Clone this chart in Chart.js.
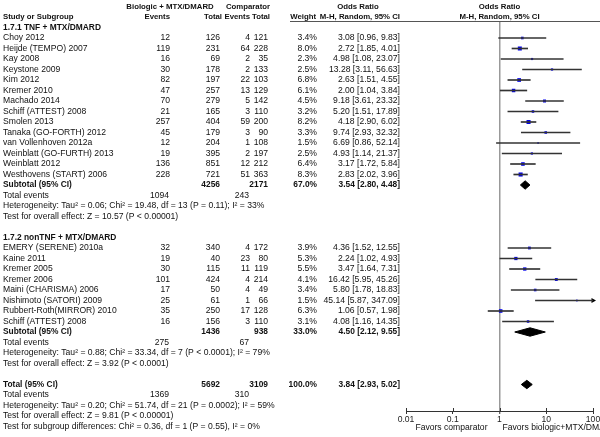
<!DOCTYPE html>
<html>
<head>
<meta charset="utf-8">
<script src="https://cdn.jsdelivr.net/npm/chart.js@4.4.0/dist/chart.umd.min.js"></script>
<style>
body{margin:0;background:#fff;}
#wrap{width:600px;height:437px;position:relative;}
</style>
</head>
<body>
<div id="wrap"><canvas id="forest"></canvas></div>
<script>
// 1.7.1 TNF + MTX/DMARD
const tnfStudies = ['Choy 2012','Heijde (TEMPO) 2007','Kay 2008','Keystone 2009','Kim 2012','Kremer 2010','Machado 2014','Schiff (ATTEST) 2008','Smolen 2013','Tanaka (GO-FORTH) 2012','van Vollenhoven 2012a','Weinblatt (GO-FURTH) 2013','Weinblatt 2012','Westhovens (START) 2006'];
const tnfBioEvents = [12,119,16,30,82,47,70,21,257,45,12,19,136,228];
const tnfBioTotal = [126,231,69,178,197,257,279,165,404,179,204,395,851,721];
const tnfCompEvents = [4,64,2,2,22,13,5,3,59,3,1,2,12,51];
const tnfCompTotal = [121,228,35,133,103,129,142,110,200,90,108,197,212,363];
const tnfWeight = [3.4,8.0,2.3,2.5,6.8,6.1,4.5,3.2,8.2,3.3,1.5,2.5,6.4,8.3];
const tnfOR = [3.08,2.72,4.98,13.28,2.63,2.00,9.18,5.20,4.18,9.74,6.69,4.93,3.17,2.83];
const tnfLow = [0.96,1.85,1.08,3.11,1.51,1.04,3.61,1.51,2.90,2.93,0.86,1.14,1.72,2.02];
const tnfHigh = [9.83,4.01,23.07,56.63,4.55,3.84,23.32,17.89,6.02,32.32,52.14,21.37,5.84,3.96];

// 1.7.2 nonTNF + MTX/DMARD
const nonStudies = ['EMERY (SERENE) 2010a','Kaine 2011','Kremer 2005','Kremer 2006','Maini (CHARISMA) 2006','Nishimoto (SATORI) 2009','Rubbert-Roth(MIRROR) 2010','Schiff (ATTEST) 2008'];
const nonBioEvents = [32,19,30,101,17,25,35,16];
const nonBioTotal = [340,40,115,424,50,61,250,156];
const nonCompEvents = [4,23,11,4,4,1,17,3];
const nonCompTotal = [172,80,119,214,49,66,128,110];
const nonWeight = [3.9,5.3,5.5,4.1,3.4,1.5,6.3,3.1];
const nonOR = [4.36,2.24,3.47,16.42,5.80,45.14,1.06,4.08];
const nonLow = [1.52,1.02,1.64,5.95,1.78,5.87,0.57,1.16];
const nonHigh = [12.55,4.93,7.31,45.26,18.83,347.09,1.98,14.35];

// subtotals and total
const sumLabels = ['Subtotal (95% CI)','Subtotal (95% CI)','Total (95% CI)'];
const sumBioTotal = [4256,1436,5692];
const sumCompTotal = [2171,938,3109];
const sumWeight = [67.0,33.0,100.0];
const sumOR = [3.54,4.50,3.84];
const sumLow = [2.80,2.12,2.93];
const sumHigh = [4.48,9.55,5.02];
const sumBioEvents = [1094,275,1369];
const sumCompEvents = [243,67,310];
const sumHet = [
  'Heterogeneity: Tau\u00b2 = 0.06; Chi\u00b2 = 19.48, df = 13 (P = 0.11); I\u00b2 = 33%',
  'Heterogeneity: Tau\u00b2 = 0.88; Chi\u00b2 = 33.34, df = 7 (P < 0.0001); I\u00b2 = 79%',
  'Heterogeneity: Tau\u00b2 = 0.20; Chi\u00b2 = 51.74, df = 21 (P = 0.0002); I\u00b2 = 59%'
];
const sumEffect = [
  'Test for overall effect: Z = 10.57 (P < 0.00001)',
  'Test for overall effect: Z = 3.92 (P < 0.0001)',
  'Test for overall effect: Z = 9.81 (P < 0.00001)'
];
const subgroupTest = 'Test for subgroup differences: Chi\u00b2 = 0.36, df = 1 (P = 0.55), I\u00b2 = 0%';
const groupTitles = ['1.7.1 TNF + MTX/DMARD','1.7.2 nonTNF + MTX/DMARD'];
const tickValues = [0.01,0.1,1,10,100];

const groups = [
  {names:tnfStudies, be:tnfBioEvents, bt:tnfBioTotal, ce:tnfCompEvents, ct:tnfCompTotal, w:tnfWeight, or:tnfOR, lo:tnfLow, hi:tnfHigh},
  {names:nonStudies, be:nonBioEvents, bt:nonBioTotal, ce:nonCompEvents, ct:nonCompTotal, w:nonWeight, or:nonOR, lo:nonLow, hi:nonHigh}
];

// assign rows
const studyRows = [];
const textRows = [];
const sumRows = [];
let r = 1;
groups.forEach(function(g, k){
  textRows.push({row:r++, text:groupTitles[k], bold:true});
  g.names.forEach(function(n, i){
    studyRows.push({row:r++, name:n, be:g.be[i], bt:g.bt[i], ce:g.ce[i], ct:g.ct[i], w:g.w[i], or:g.or[i], lo:g.lo[i], hi:g.hi[i]});
  });
  sumRows.push({row:r, k:k});
  r += 5; // subtotal, events, heterogeneity, effect, blank
});
sumRows.push({row:r, k:2});
const subgroupRow = r + 4;

const X_MAX = 100;

const ciData = studyRows.map(s => ({x:[s.lo, Math.min(s.hi, X_MAX*5)], y:s.row}));
const pointData = studyRows.map(s => ({x:s.or, y:s.row}));
const pointSizes = studyRows.map(s => Math.sqrt(s.w));
const arrowData = studyRows.filter(s => s.hi > X_MAX).map(s => ({x:X_MAX, y:s.row}));

const diamondSets = sumRows.map(s => ({
  type:'line',
  data:[
    {x:sumLow[s.k], y:s.row},
    {x:sumOR[s.k], y:s.row-0.4},
    {x:sumHigh[s.k], y:s.row},
    {x:sumOR[s.k], y:s.row+0.4},
    {x:sumLow[s.k], y:s.row}
  ],
  borderColor:'#000',
  backgroundColor:'#000',
  borderWidth:1,
  pointRadius:0,
  tension:0,
  fill:'shape'
}));

const f2 = v => v.toFixed(2);
const orText = (o, l, h) => f2(o) + ' [' + f2(l) + ', ' + f2(h) + ']';

const FAM = '"Liberation Sans", Arial, sans-serif';
const REG = '8.6px ' + FAM;
const BOLD = 'bold 8.4px ' + FAM;
const HEAD = 'bold 7.8px ' + FAM;

const tablePlugin = {
  id:'table',
  afterDraw(chart){
    const ctx = chart.ctx;
    const ys = chart.scales.y;
    const xs = chart.scales.x;
    const Y = row => ys.getPixelForValue(row);
    function txt(t, x, row, align, font){
      ctx.font = font || REG;
      ctx.textAlign = align;
      ctx.fillText(t, x, Y(row));
    }
    ctx.save();
    ctx.fillStyle = '#111';
    ctx.textBaseline = 'middle';

    // headers
    const mid = xs.getPixelForValue(1);
    txt('Biologic + MTX/DMARD', 170, -1, 'center', HEAD);
    txt('Comparator', 248, -1, 'center', HEAD);
    txt('Odds Ratio', 358, -1, 'center', HEAD);
    txt('Odds Ratio', mid, -1, 'center', HEAD);
    txt('Study or Subgroup', 3, 0, 'left', HEAD);
    txt('Events', 170, 0, 'right', HEAD);
    txt('Total', 222, 0, 'right', HEAD);
    txt('Events', 250, 0, 'right', HEAD);
    txt('Total', 270, 0, 'right', HEAD);
    txt('Weight', 316, 0, 'right', HEAD);
    txt('M-H, Random, 95% CI', 400, 0, 'right', HEAD);
    txt('M-H, Random, 95% CI', mid, 0, 'center', HEAD);

    ctx.strokeStyle = '#555';
    ctx.lineWidth = 1;
    ctx.beginPath();
    ctx.moveTo(290, chart.chartArea.top + 0.5);
    ctx.lineTo(600, chart.chartArea.top + 0.5);
    ctx.stroke();

    // small upward tick marks on the axis
    ctx.strokeStyle = '#333';
    ctx.beginPath();
    tickValues.forEach(v => {
      const px = Math.round(xs.getPixelForValue(v)) + 0.5;
      ctx.moveTo(px, xs.top);
      ctx.lineTo(px, xs.top - 3);
    });
    ctx.stroke();

    textRows.forEach(t => txt(t.text, 3, t.row, 'left', BOLD));

    studyRows.forEach(s => {
      txt(s.name, 3, s.row, 'left');
      txt(String(s.be), 170, s.row, 'right');
      txt(String(s.bt), 220, s.row, 'right');
      txt(String(s.ce), 250, s.row, 'right');
      txt(String(s.ct), 268, s.row, 'right');
      txt(s.w.toFixed(1) + '%', 317, s.row, 'right');
      txt(orText(s.or, s.lo, s.hi), 400, s.row, 'right');
    });

    sumRows.forEach(s => {
      const k = s.k;
      txt(sumLabels[k], 3, s.row, 'left', BOLD);
      txt(String(sumBioTotal[k]), 220, s.row, 'right', BOLD);
      txt(String(sumCompTotal[k]), 268, s.row, 'right', BOLD);
      txt(sumWeight[k].toFixed(1) + '%', 317, s.row, 'right', BOLD);
      txt(orText(sumOR[k], sumLow[k], sumHigh[k]), 400, s.row, 'right', BOLD);
      txt('Total events', 3, s.row + 1, 'left');
      txt(String(sumBioEvents[k]), 169, s.row + 1, 'right');
      txt(String(sumCompEvents[k]), 249, s.row + 1, 'right');
      txt(sumHet[k], 3, s.row + 2, 'left');
      txt(sumEffect[k], 3, s.row + 3, 'left');
    });
    txt(subgroupTest, 3, subgroupRow, 'left');

    // favours labels under the axis
    ctx.font = REG;
    ctx.textAlign = 'right';
    ctx.fillText('Favors comparator', mid - 12, xs.top + 17);
    ctx.textAlign = 'left';
    ctx.fillText('Favors biologic+MTX/DMARD', mid + 3, xs.top + 17);
    ctx.restore();
  }
};

new Chart(document.getElementById('forest').getContext('2d'), {
  data:{
    datasets:[
      {
        type:'bar',
        indexAxis:'y',
        data:ciData,
        backgroundColor:'#333',
        barThickness:1,
        borderWidth:0
      },
      {
        type:'scatter',
        data:pointData,
        pointStyle:'rect',
        pointRadius:pointSizes,
        pointHoverRadius:pointSizes,
        backgroundColor:'#0000ee',
        borderWidth:0
      },
      {
        type:'scatter',
        data:arrowData,
        pointStyle:'triangle',
        rotation:90,
        pointRadius:3,
        backgroundColor:'#000',
        borderWidth:0,
        clip:false
      }
    ].concat(diamondSets)
  },
  options:{
    responsive:true,
    maintainAspectRatio:false,
    animation:false,
    layout:{padding:{left:406, right:7, top:21, bottom:9}},
    plugins:{legend:{display:false}, tooltip:{enabled:false}},
    scales:{
      x:{
        type:'logarithmic',
        position:'bottom',
        min:0.01,
        max:X_MAX,
        afterBuildTicks: s => { s.ticks = tickValues.map(v => ({value:v})); },
        afterFit: s => { s.height = 17; s.paddingLeft = 0; s.paddingRight = 0; },
        ticks:{
          autoSkip:false,
          maxRotation:0,
          padding:0,
          color:'#222',
          font:{family:FAM, size:8.6},
          callback: v => String(v)
        },
        grid:{
          drawOnChartArea:true,
          color: c => (c.tick && c.tick.value === 1) ? '#999' : 'rgba(0,0,0,0)',
          lineWidth: c => (c.tick && c.tick.value === 1) ? 1.5 : 1,
          tickColor:'#333',
          tickWidth:1,
          tickLength:3
        },
        border:{display:true, color:'#333', width:1}
      },
      y:{
        type:'linear',
        display:false,
        reverse:true,
        offset:false,
        min:(21 - 17) / 10.5,
        max:(411 - 17) / 10.5
      }
    }
  },
  plugins:[tablePlugin]
});
</script>
</body>
</html>
